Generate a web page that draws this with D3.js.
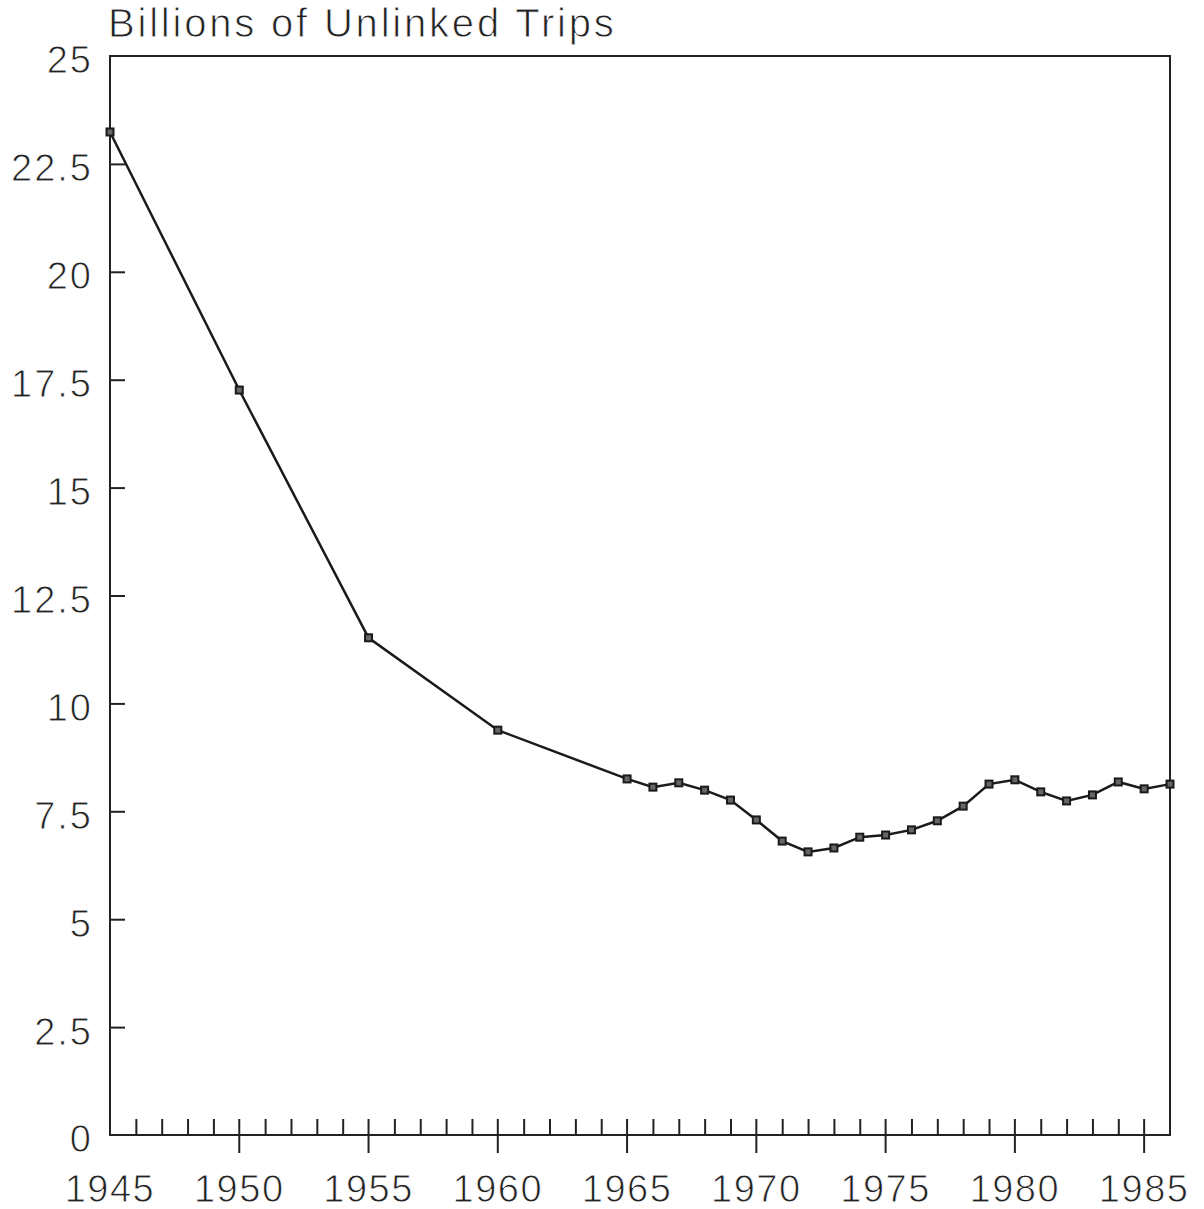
<!DOCTYPE html>
<html>
<head>
<meta charset="utf-8">
<script src="https://cdn.jsdelivr.net/npm/d3@7"></script>
<style>
  html, body { margin: 0; padding: 0; background: #fff; }
  svg text { font-family: "Liberation Sans", Arial, sans-serif; fill: #222; stroke: #fff; stroke-width: 0.9px; }
</style>
</head>
<body>
<div id="chart"></div>
<script>
// 数据
const years = [1945, 1950, 1955, 1960, 1965, 1966, 1967, 1968, 1969, 1970,
  1971, 1972, 1973, 1974, 1975, 1976, 1977, 1978, 1979, 1980,
  1981, 1982, 1983, 1984, 1985, 1986];
const trips = [23.24, 17.26, 11.52, 9.38, 8.25, 8.06, 8.16, 7.99, 7.76, 7.30,
  6.81, 6.56, 6.65, 6.90, 6.95, 7.07, 7.28, 7.62, 8.13, 8.23,
  7.95, 7.74, 7.88, 8.18, 8.02, 8.13];
const yTicks = [0, 2.5, 5, 7.5, 10, 12.5, 15, 17.5, 20, 22.5, 25];
const xMajor = [1945, 1950, 1955, 1960, 1965, 1970, 1975, 1980, 1985];
const title = 'Billions of Unlinked Trips';

const width = 1204, height = 1209;
const plotLeft = 110, plotRight = 1170, plotTop = 56, plotBottom = 1135;

const svg = d3.select('#chart').append('svg')
  .attr('width', width)
  .attr('height', height);

const x = d3.scaleLinear().domain([1945, 1986]).range([plotLeft, plotRight]);
const y = d3.scaleLinear().domain([0, 25]).range([plotBottom, plotTop]);

// 边框
svg.append('path')
  .attr('d', `M${plotLeft},${plotBottom} L${plotLeft},${plotTop} L${plotRight},${plotTop} L${plotRight},${plotBottom} Z`)
  .attr('fill', 'none')
  .attr('stroke', '#222')
  .attr('stroke-width', 2);

// y 刻度（向内）
const yAxis = svg.append('g').attr('transform', `translate(${plotLeft},0)`)
  .call(d3.axisRight(y).tickValues(yTicks.filter(d => d > 0 && d < 25)).tickSize(15).tickFormat(''));
yAxis.select('.domain').remove();
yAxis.selectAll('line').attr('stroke', '#222').attr('stroke-width', 2);

svg.append('g').selectAll('text')
  .data(yTicks)
  .enter()
  .append('text')
  .attr('x', 93)
  .attr('y', d => y(d))
  .attr('dy', '0.46em')
  .attr('text-anchor', 'end')
  .attr('font-size', 38)
  .attr('letter-spacing', 2)
  .text(d => d);

// x 小刻度（向内）
const minor = d3.range(1946, 1986).filter(d => d % 5 !== 0);
svg.append('g').attr('transform', `translate(0,${plotBottom})`)
  .call(d3.axisTop(x).tickValues(minor).tickSize(16).tickFormat(''))
  .call(g => g.select('.domain').remove())
  .selectAll('line').attr('stroke', '#222').attr('stroke-width', 2);

// x 大刻度（穿过轴线）
svg.append('g').selectAll('line')
  .data(xMajor.filter(d => d > 1945))
  .enter()
  .append('line')
  .attr('x1', d => x(d)).attr('x2', d => x(d))
  .attr('y1', plotBottom - 16).attr('y2', plotBottom + 18)
  .attr('stroke', '#222').attr('stroke-width', 2);

svg.append('g').selectAll('text')
  .data(xMajor)
  .enter()
  .append('text')
  .attr('x', d => x(d))
  .attr('y', 1202)
  .attr('text-anchor', 'middle')
  .attr('font-size', 38)
  .attr('letter-spacing', 1.5)
  .text(d => d);

// 标题
svg.append('text')
  .attr('x', 108)
  .attr('y', 37)
  .attr('font-size', 40)
  .attr('letter-spacing', 2.8)
  .text(title);

// 折线
const pts = years.map((d, i) => ({ year: d, v: trips[i] }));
svg.append('path')
  .datum(pts)
  .attr('fill', 'none')
  .attr('stroke', '#1a1a1a')
  .attr('stroke-width', 2.5)
  .attr('d', d3.line().x(d => x(d.year)).y(d => y(d.v)));

svg.append('g').selectAll('rect')
  .data(pts)
  .enter()
  .append('rect')
  .attr('x', d => x(d.year) - 3.5)
  .attr('y', d => y(d.v) - 3.5)
  .attr('width', 7)
  .attr('height', 7)
  .attr('fill', '#666')
  .attr('stroke', '#1a1a1a')
  .attr('stroke-width', 2);
</script>
</body>
</html>
